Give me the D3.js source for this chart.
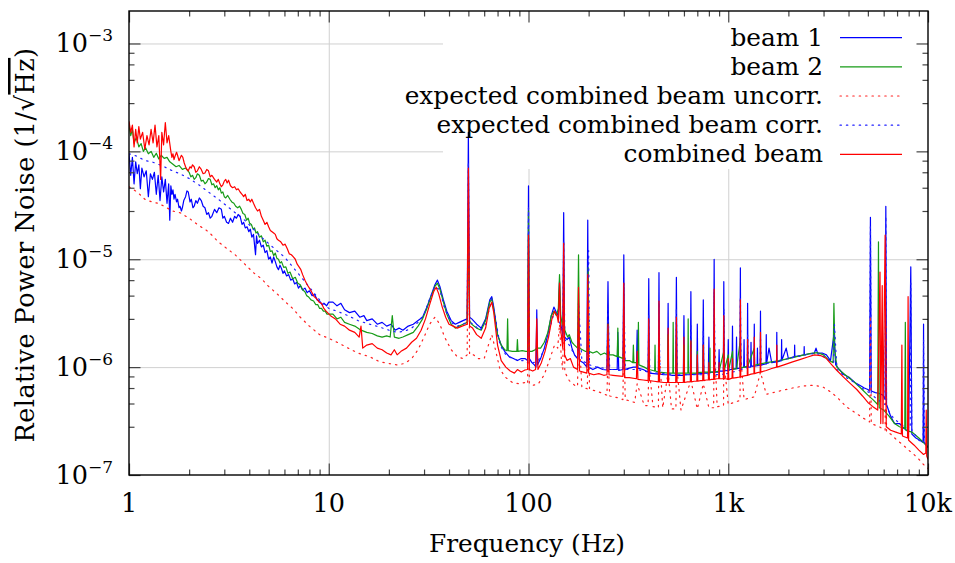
<!DOCTYPE html>
<html lang="en">
<head>
<meta charset="UTF-8">
<title>Relative Power Noise</title>
<script src="https://cdn.jsdelivr.net/npm/d3@7/dist/d3.min.js"></script>
<style>
    body { margin: 0; padding: 0; background: #fff; }
    svg { display: block; }
    text { font-family: "DejaVu Serif", serif; fill: #000; }
    .curve { fill: none; stroke-width: 1.2; stroke-linejoin: round; }
    .grid line { stroke: #d0d0d0; stroke-width: 1; }
    .grid path, .ticks path { display: none; }
    .ticks line { stroke: #444; stroke-width: 1.2; }
</style>
</head>
<body>
<svg width="955" height="563"></svg>
<script>
    // [frequency (Hz), noise (1/sqrt(Hz))]
    var beam1 = [
        [1.00,95e-6],[1.02,60e-6],[1.04,88e-6],[1.06,50e-6],[1.08,80e-6],[1.10,62e-6],[1.12,75e-6],[1.14,45e-6],
        [1.16,70e-6],[1.19,58e-6],[1.22,66e-6],[1.25,38e-6],[1.28,62e-6],[1.31,55e-6],[1.34,64e-6],[1.37,40e-6],
        [1.40,60e-6],[1.43,35e-6],[1.46,58e-6],[1.49,42e-6],[1.52,55e-6],[1.55,33e-6],[1.58,50e-6],[1.60,23e-6],
        [1.62,48e-6],[1.64,40e-6],[1.66,44e-6],[1.68,36e-6],[1.70,40e-6],[1.73,34e-6],[1.75,36e-6],[1.78,30e-6],
        [1.80,31e-6],[1.83,28e-6],[1.85,30e-6],[1.88,35e-6],[1.92,38e-6],[1.95,43e-6],[1.98,42e-6],[2.02,34e-6],
        [2.05,36e-6],[2.09,30e-6],[2.12,31e-6],[2.16,35e-6],[2.2,33e-6],[2.25,37e-6],[2.3,35e-6],[2.35,31e-6],
        [2.4,30e-6],[2.45,26e-6],[2.5,27e-6],[2.55,24e-6],[2.6,25e-6],[2.68,29e-6],[2.75,27e-6],[2.82,30e-6],
        [2.9,29e-6],[2.95,24e-6],[3.0,25e-6],[3.08,22e-6],[3.15,21.5e-6],[3.22,24e-6],[3.3,22e-6],[3.38,25e-6],
        [3.45,24e-6],[3.52,26e-6],[3.6,25e-6],[3.68,21e-6],[3.75,22e-6],[3.82,19.5e-6],[3.9,20e-6],[3.98,18e-6],
        [4.05,19e-6],[4.12,16e-6],[4.2,17e-6],[4.3,11e-6],[4.35,16.5e-6],[4.4,14e-6],[4.5,15e-6],[4.6,13e-6],
        [4.7,13.5e-6],[4.8,11.5e-6],[4.9,12e-6],[5.0,10e-6],[5.1,10.5e-6],[5.2,9.2e-6],[5.3,10.5e-6],[5.4,9.5e-6],
        [5.5,8.5e-6],[5.6,8e-6],[5.7,8.8e-6],[5.8,8.2e-6],[5.9,7.4e-6],[6.0,7.8e-6],[6.15,7e-6],[6.3,7.2e-6],
        [6.45,6.4e-6],[6.6,6.6e-6],[6.75,5.9e-6],[6.9,6.1e-6],[7.05,5.4e-6],[7.2,5.7e-6],[7.4,5.2e-6],[7.6,5.4e-6],
        [7.8,4.9e-6],[8.0,5.1e-6],[8.25,4.6e-6],[8.5,4.7e-6],[8.75,4.2e-6],[9.0,4.1e-6],[9.25,3.8e-6],[9.5,3.9e-6],
        [9.75,3.7e-6],[10,4e-6],
        [10.5,4.0e-6],[11,3.7e-6],[11.5,3.9e-6],[12,3.4e-6],[12.7,3.2e-6],[13.5,3.3e-6],[14.3,2.9e-6],[15,3.0e-6],
        [15.5,2.7e-6],[16.5,2.8e-6],[17.5,2.5e-6],[18.5,2.6e-6],[19.5,2.4e-6],[20.5,2.5e-6],[21.5,2.2e-6],[22.5,2.3e-6],
        [23.5,2.2e-6],[25,2.4e-6],[26.5,2.5e-6],[28,2.7e-6],[29.5,2.9e-6],[31,3.6e-6],[32.5,4.6e-6],[34,5.8e-6],
        [35,6.4e-6],[36,5.6e-6],[37.5,4.2e-6],[39,3.3e-6],[41,2.7e-6],[43,2.5e-6],[45,2.6e-6],[47,2.7e-6],
        [49.3,2.8e-6],[50,150e-6],[50.7,2.9e-6],[52,2.8e-6],[55,2.5e-6],[58,2.3e-6],[61,2.8e-6],[64,4.2e-6],
        [65.5,4.5e-6],[67,3.6e-6],[70,2.0e-6],[73,1.6e-6],[76,1.4e-6],[80,1.25e-6],[84,1.2e-6],[88,1.15e-6],
        [92,1.2e-6],[96,1.2e-6],[99,1.15e-6],[100,48e-6],[101,1.2e-6],
        [104,1.1e-6],[107,1.05e-6],[109,1.0e-6],[110,3.4e-6],[111,1.05e-6],[115,1.2e-6],[120,1.5e-6],[125,2.0e-6],
        [130,3.0e-6],[134,3.6e-6],[138,3.2e-6],[141,3.0e-6],[143,6.2e-6],[145,2.5e-6],[148.5,2.0e-6],[150,27e-6],
        [151.5,1.9e-6],[156,1.8e-6],[160,1.9e-6],[165,1.5e-6],[170,1.3e-6],[176,1.2e-6],[178,2.0e-6],[180,1.15e-6],
        [188,1.1e-6],[196,1.0e-6],[198,23e-6],[200,1.0e-6],[210,0.95e-6],[222,1.0e-6],[235,0.95e-6],[247,0.94e-6],
        [250,6.2e-6],[253,0.95e-6],[265,0.95e-6],[278,0.95e-6],[280,2.1e-6],[283,0.93e-6],[297,0.95e-6],[300,11e-6],
        [303,0.95e-6],[320,0.98e-6],[335,1.0e-6],[347,1.0e-6],[350,2.2e-6],[353,0.98e-6],[375,0.95e-6],[397,0.9e-6],
        [400,6.6e-6],[403,0.88e-6],[425,0.87e-6],[447,0.86e-6],[450,7.5e-6],[453,0.86e-6],[475,0.85e-6],[497,0.85e-6],
        [500,3.9e-6],[503,0.85e-6],[525,0.84e-6],[546,0.84e-6],[550,6.8e-6],[554,0.84e-6],[575,0.84e-6],[596,0.84e-6],
        [600,3.0e-6],[604,0.85e-6],[625,0.85e-6],[646,0.85e-6],[650,5.0e-6],[654,0.85e-6],[675,0.86e-6],[696,0.86e-6],
        [700,2.5e-6],[704,0.86e-6],[725,0.87e-6],[745,0.87e-6],[750,4.2e-6],[755,0.88e-6],[775,0.88e-6],[795,0.88e-6],
        [800,1.9e-6],[805,0.88e-6],[825,0.9e-6],[845,0.9e-6],[850,10e-6],[855,0.9e-6],[875,0.9e-6],[895,0.9e-6],
        [900,1.45e-6],[905,0.92e-6],[925,0.92e-6],[945,0.92e-6],[950,6.2e-6],[955,0.93e-6],[975,0.93e-6],[995,0.92e-6],
        [1000,1.8e-6],[1005,0.93e-6],
        [1025,0.95e-6],[1045,0.95e-6],[1050,2.4e-6],[1055,0.96e-6],[1095,0.97e-6],[1100,1.9e-6],[1105,0.97e-6],[1145,0.98e-6],
        [1150,8.3e-6],[1155,0.98e-6],[1195,1.0e-6],[1200,1.8e-6],[1205,1.0e-6],[1245,1.0e-6],[1250,3.9e-6],[1255,1.0e-6],
        [1295,1.0e-6],[1300,1.7e-6],[1305,1.02e-6],[1345,1.02e-6],[1350,2.5e-6],[1355,1.02e-6],[1395,1.03e-6],[1400,1.5e-6],
        [1405,1.03e-6],[1445,1.04e-6],[1450,3.3e-6],[1455,1.04e-6],[1500,1.06e-6],[1545,1.07e-6],[1550,2.0e-6],[1555,1.07e-6],
        [1600,1.5e-6],[1650,1.1e-6],[1745,1.12e-6],[1750,2.1e-6],[1755,1.12e-6],[1845,1.15e-6],[1850,1.8e-6],[1855,1.15e-6],
        [1950,1.5e-6],[2000,1.2e-6],[2145,1.25e-6],[2150,1.6e-6],[2155,1.25e-6],[2300,1.28e-6],[2395,1.3e-6],[2400,1.55e-6],
        [2405,1.3e-6],[2550,1.33e-6],[2700,1.35e-6],[2750,1.5e-6],[2800,1.35e-6],[2950,1.35e-6],[3100,1.3e-6],[3250,1.15e-6],
        [3380,2.0e-6],[3450,1.05e-6],[3600,0.95e-6],[3800,0.85e-6],[4050,0.8e-6],[4300,0.72e-6],[4550,0.68e-6],[4800,0.64e-6],
        [5000,0.62e-6],[5100,0.6e-6],[5150,24.5e-6],[5200,0.6e-6],[5450,0.58e-6],[5700,0.57e-6],[5950,0.55e-6],[6100,0.5e-6],
        [6150,31e-6],[6200,0.45e-6],[6500,0.35e-6],[6800,0.3e-6],[7200,0.3e-6],[7600,0.27e-6],[8000,0.25e-6],[8200,8.5e-6],
        [8300,0.24e-6],[8700,0.22e-6],[9100,0.21e-6],[9450,0.2e-6],[9500,2.5e-6],[9550,0.2e-6],[9800,0.19e-6],[10000,0.18e-6]
    ];
    var beam2 = [
        [1.00,175e-6],[1.02,140e-6],[1.04,160e-6],[1.06,120e-6],[1.09,135e-6],[1.12,110e-6],[1.15,118e-6],[1.18,100e-6],
        [1.21,108e-6],[1.25,95e-6],[1.29,100e-6],[1.33,88e-6],[1.37,96e-6],[1.41,85e-6],[1.45,92e-6],[1.5,86e-6],
        [1.55,88e-6],[1.6,80e-6],[1.66,76e-6],[1.72,72e-6],[1.78,74e-6],[1.85,68e-6],[1.92,70e-6],
        [2.0,64e-6],[2.04,58e-6],[2.08,60e-6],[2.12,55e-6],[2.16,57e-6],[2.2,62e-6],[2.25,60e-6],[2.3,53e-6],
        [2.35,54e-6],[2.4,50e-6],[2.45,52e-6],[2.5,56e-6],[2.55,55e-6],[2.6,49e-6],[2.65,50e-6],[2.7,46e-6],
        [2.75,48e-6],[2.8,44e-6],[2.85,46e-6],[2.9,41e-6],[2.95,42e-6],[3.0,38e-6],[3.05,37e-6],[3.12,39e-6],
        [3.2,36e-6],[3.27,34e-6],[3.35,33e-6],[3.42,31e-6],[3.5,30e-6],[3.58,31e-6],[3.65,29e-6],[3.72,26.5e-6],
        [3.8,26e-6],[3.88,23e-6],[3.95,24e-6],[4.02,21.5e-6],[4.1,21e-6],[4.18,19e-6],[4.25,19.5e-6],[4.32,17.5e-6],
        [4.4,18e-6],[4.5,16e-6],[4.6,16.5e-6],[4.7,14.5e-6],[4.8,15e-6],[4.9,13.2e-6],[5.0,13.5e-6],[5.1,11.8e-6],
        [5.2,12e-6],[5.3,10.8e-6],[5.4,11.4e-6],[5.5,10.2e-6],[5.6,10e-6],[5.7,9.2e-6],[5.8,9.5e-6],[5.95,8.4e-6],
        [6.1,8.5e-6],[6.25,7.4e-6],[6.4,7.6e-6],[6.6,6.6e-6],[6.8,6.8e-6],[7.0,6.0e-6],[7.2,5.8e-6],[7.4,5.2e-6],
        [7.6,5.0e-6],[7.75,4.6e-6],[7.9,4.5e-6],[8.15,4.2e-6],[8.4,4.1e-6],[8.6,3.8e-6],[8.8,3.8e-6],[9.0,3.5e-6],
        [9.2,3.5e-6],[9.4,3.3e-6],[9.6,3.3e-6],[9.8,3.1e-6],[10,3.1e-6],
        [10.5,3.1e-6],[11,2.8e-6],[11.5,2.9e-6],[12,2.6e-6],[12.7,2.5e-6],[13.5,2.4e-6],[14.5,2.2e-6],[15.5,2.1e-6],
        [16.5,2.05e-6],[17.5,1.95e-6],[18.5,1.9e-6],[19.5,1.95e-6],[20.3,1.9e-6],[20.8,3.0e-6],[21.3,1.9e-6],[22.5,1.85e-6],
        [23.5,1.9e-6],[25,2.0e-6],[26.5,2.1e-6],[28,2.4e-6],[29.5,2.8e-6],[31,3.5e-6],[32.5,4.5e-6],[34,5.6e-6],
        [35,6.0e-6],[36,5.3e-6],[37.5,4.0e-6],[39,3.1e-6],[41,2.5e-6],[43,2.3e-6],[45,2.4e-6],[47,2.5e-6],
        [49.3,2.6e-6],[50,18e-6],[50.7,2.7e-6],[52,2.5e-6],[55,2.3e-6],[58,2.2e-6],[61,2.7e-6],[64,4.0e-6],
        [65.5,4.3e-6],[67,3.4e-6],[70,2.0e-6],[73,1.6e-6],[76,1.45e-6],[78,1.42e-6],[78.6,2.8e-6],[79.2,1.42e-6],
        [83,1.4e-6],[87.4,1.4e-6],[88,1.8e-6],[88.6,1.4e-6],[93,1.42e-6],[97,1.4e-6],[99,1.4e-6],[100,28e-6],[101,1.4e-6],
        [104,1.4e-6],[108,1.45e-6],[110,1.5e-6],[115,1.5e-6],[120,1.7e-6],[125,2.1e-6],[130,3.0e-6],[134,3.3e-6],
        [138,3.0e-6],[141,3.5e-6],[143,7.2e-6],[145,3.0e-6],[148,2.4e-6],[150,3.0e-6],[152,2.2e-6],[157,1.9e-6],
        [160,2.0e-6],[165,1.7e-6],[170,1.6e-6],[176,1.5e-6],[178,11e-6],[180,1.5e-6],[186,1.45e-6],[192,1.4e-6],
        [197,1.4e-6],[199,8.3e-6],[201,1.4e-6],[210,1.35e-6],[220,1.4e-6],[230,1.3e-6],[240,1.35e-6],[248,1.3e-6],
        [250,2.5e-6],[252,1.3e-6],[265,1.3e-6],[278,1.25e-6],[280,2.3e-6],[282,1.25e-6],[298,1.2e-6],[300,2.2e-6],
        [302,1.15e-6],[320,1.15e-6],[333,1.1e-6],[335,1.6e-6],[337,1.1e-6],[353,1.1e-6],[355,2.6e-6],[357,1.05e-6],
        [380,1.0e-6],[398,0.95e-6],[400,1.5e-6],[402,0.95e-6],[428,0.92e-6],[430,1.6e-6],[432,0.92e-6],[448,0.9e-6],
        [450,1.5e-6],[452,0.9e-6],[498,0.88e-6],[500,2.0e-6],[502,0.88e-6],[528,0.88e-6],[530,2.6e-6],[532,0.88e-6],
        [548,0.88e-6],[550,1.8e-6],[552,0.88e-6],[598,0.88e-6],[600,1.6e-6],[602,0.88e-6],[628,0.88e-6],[630,2.8e-6],
        [632,0.88e-6],[648,0.88e-6],[650,1.8e-6],[652,0.88e-6],[698,0.88e-6],[700,1.4e-6],[702,0.89e-6],[748,0.9e-6],
        [750,1.6e-6],[752,0.9e-6],[808,0.9e-6],[810,1.5e-6],[812,0.9e-6],[848,0.9e-6],[850,2.0e-6],[852,0.9e-6],
        [900,0.92e-6],[950,1.4e-6],[955,0.93e-6],[1000,1.3e-6],[1005,0.94e-6],
        [1050,1.4e-6],[1055,0.95e-6],[1100,0.97e-6],[1150,1.8e-6],[1155,0.98e-6],[1250,1.02e-6],[1350,1.5e-6],[1355,1.04e-6],
        [1450,1.07e-6],[1550,1.1e-6],[1650,1.12e-6],[1800,1.15e-6],[2000,1.2e-6],[2200,1.25e-6],[2400,1.3e-6],[2600,1.34e-6],
        [2800,1.36e-6],[3000,1.3e-6],[3200,1.15e-6],[3350,1.1e-6],[3380,3.9e-6],[3420,1.4e-6],[3500,1.0e-6],[3700,0.9e-6],
        [4000,0.8e-6],[4300,0.72e-6],[4600,0.64e-6],[5000,0.55e-6],[5300,0.5e-6],[5600,0.45e-6],[5650,14.5e-6],[5700,0.42e-6],
        [6000,0.4e-6],[6400,0.35e-6],[6800,0.3e-6],[7200,0.28e-6],[7650,0.27e-6],[7700,2.6e-6],[7750,0.26e-6],[8300,0.25e-6],
        [9000,0.22e-6],[9500,0.2e-6],[10000,0.18e-6]
    ];
    var uncorr = [
        [1.0,47e-6],[1.1,42e-6],[1.2,36e-6],[1.3,34e-6],[1.4,33e-6],[1.5,31e-6],[1.65,28e-6],[1.8,27e-6],
        [2.0,24e-6],[2.2,21e-6],[2.5,18e-6],[2.8,14.5e-6],[3.1,12.5e-6],[3.4,11e-6],[3.8,9e-6],[4.2,7.5e-6],
        [4.6,6.6e-6],[5.0,5.6e-6],[5.5,4.8e-6],[6.0,4.1e-6],[6.6,3.5e-6],[7.2,2.9e-6],[8.0,2.4e-6],[9.0,2.0e-6],[10,1.85e-6],
        [11,1.7e-6],[12.5,1.5e-6],[14,1.35e-6],[16,1.25e-6],[18,1.12e-6],[20,1.08e-6],[22,1.05e-6],[24,1.08e-6],
        [26,1.2e-6],[28,1.45e-6],[30,1.9e-6],[32,2.5e-6],[34,2.9e-6],[36,2.5e-6],[38,1.9e-6],[41,1.45e-6],
        [44,1.25e-6],[47,1.2e-6],[49.3,1.3e-6],[50,35e-6],[50.7,1.3e-6],[53,1.3e-6],[56,1.2e-6],[60,1.2e-6],
        [63,1.6e-6],[65.5,2.0e-6],[68,1.5e-6],[72,0.95e-6],[77,0.8e-6],[83,0.72e-6],[90,0.7e-6],[96,0.72e-6],
        [99,0.7e-6],[100,12e-6],[101,0.7e-6],
        [106,0.68e-6],[112,0.7e-6],[120,0.85e-6],[128,1.2e-6],[135,1.6e-6],[140,1.5e-6],[143,2.5e-6],[146,1.2e-6],
        [148.5,0.95e-6],[150,7e-6],[152,0.9e-6],[160,0.75e-6],[170,0.68e-6],[176,0.66e-6],[178,2.5e-6],[185,0.65e-6],
        [197,0.63e-6],[200,4e-6],[202,0.62e-6],[220,0.6e-6],[240,0.56e-6],[247,0.55e-6],[250,1.3e-6],[255,0.54e-6],
        [280,0.52e-6],[297,0.5e-6],[300,2.5e-6],[305,0.5e-6],[340,0.47e-6],[350,0.7e-6],[380,0.44e-6],[397,0.44e-6],
        [400,1.1e-6],[420,0.43e-6],[447,0.42e-6],[450,1.6e-6],[470,0.42e-6],[500,0.9e-6],[520,0.41e-6],[547,0.41e-6],
        [550,1.1e-6],[580,0.4e-6],[650,0.75e-6],[700,0.41e-6],[750,0.7e-6],[800,0.42e-6],[845,0.42e-6],[850,2e-6],
        [880,0.43e-6],[947,0.44e-6],[950,1.2e-6],[1000,0.45e-6],
        [1100,0.48e-6],[1145,0.49e-6],[1150,1.4e-6],[1200,0.5e-6],[1350,0.53e-6],[1450,0.9e-6],[1550,0.56e-6],[1800,0.6e-6],
        [2100,0.64e-6],[2400,0.67e-6],[2700,0.68e-6],[3000,0.65e-6],[3300,0.58e-6],[3600,0.5e-6],[3900,0.43e-6],[4300,0.38e-6],
        [4700,0.34e-6],[5100,0.31e-6],[5150,3e-6],[5200,0.3e-6],[5700,0.28e-6],[6100,0.26e-6],[6150,2.5e-6],[6200,0.25e-6],
        [6500,0.24e-6],[7000,0.21e-6],[7500,0.19e-6],[8000,0.17e-6],[8500,0.155e-6],[9000,0.14e-6],[9500,0.125e-6],[10000,0.115e-6]
    ];
    var corr = [
        [1.0,95e-6],[1.1,90e-6],[1.2,82e-6],[1.3,80e-6],[1.4,76e-6],[1.5,72e-6],[1.65,66e-6],[1.8,62e-6],
        [2.0,56e-6],[2.2,50e-6],[2.5,42e-6],[2.8,36e-6],[3.1,31e-6],[3.4,27e-6],[3.8,23e-6],[4.2,19e-6],
        [4.6,16e-6],[5.0,14e-6],[5.5,12e-6],[6.0,10.5e-6],[6.6,8.5e-6],[7.2,7e-6],[8.0,5.5e-6],[9.0,4.2e-6],[10,3.5e-6],
        [11,3.3e-6],[12.5,3.0e-6],[14,2.7e-6],[16,2.5e-6],[18,2.35e-6],[20,2.2e-6],[22,2.1e-6],[24,2.15e-6],
        [26,2.3e-6],[28,2.6e-6],[30,3.1e-6],[32,4.3e-6],[34,5.6e-6],[36,5.2e-6],[38,3.5e-6],[41,2.6e-6],
        [44,2.4e-6],[47,2.5e-6],[49.3,2.6e-6],[50,80e-6],[50.7,2.6e-6],[53,2.5e-6],[57,2.2e-6],[61,2.5e-6],
        [65.5,4.3e-6],[68,3.0e-6],[72,1.6e-6],[77,1.3e-6],[83,1.2e-6],[90,1.15e-6],[96,1.15e-6],[99,1.1e-6],
        [100,30e-6],[101,1.1e-6],
        [106,1.1e-6],[112,1.15e-6],[120,1.45e-6],[128,2.3e-6],[135,3.3e-6],[140,3.0e-6],[146,2.3e-6],[148.5,1.9e-6],
        [150,15e-6],[152,1.8e-6],[160,1.6e-6],[170,1.3e-6],[176,1.2e-6],[178,4e-6],[185,1.15e-6],[197,1.08e-6],
        [200,12e-6],[202,1.05e-6],[220,1.0e-6],[247,0.97e-6],[250,3.5e-6],[255,0.95e-6],[280,0.95e-6],[297,0.95e-6],
        [300,6e-6],[305,0.95e-6],[350,0.95e-6],[397,0.9e-6],[400,3e-6],[405,0.9e-6],[447,0.88e-6],[450,4e-6],
        [455,0.88e-6],[547,0.85e-6],[550,3.5e-6],[555,0.85e-6],[647,0.85e-6],[650,2.5e-6],[655,0.85e-6],[747,0.85e-6],
        [750,2.2e-6],[755,0.85e-6],[845,0.85e-6],[850,5e-6],[860,0.85e-6],[945,0.86e-6],[950,3.5e-6],[960,0.86e-6],
        [1050,0.9e-6],[1145,0.93e-6],[1150,4.5e-6],[1160,0.95e-6],[1245,0.98e-6],[1250,2e-6],[1260,1.0e-6],[1445,1.04e-6],
        [1450,1.9e-6],[1460,1.05e-6],[1800,1.15e-6],[2200,1.25e-6],[2600,1.33e-6],[2900,1.32e-6],[3200,1.15e-6],[3370,1.1e-6],
        [3400,2.5e-6],[3500,0.95e-6],[3900,0.8e-6],[4400,0.7e-6],[4900,0.6e-6],[5100,0.58e-6],[5150,20e-6],[5200,0.56e-6],
        [5600,0.5e-6],[6100,0.45e-6],[6150,25e-6],[6200,0.42e-6],[6600,0.35e-6],[7200,0.3e-6],[7700,0.28e-6],[8150,0.27e-6],
        [8200,6e-6],[8300,0.26e-6],[9000,0.21e-6],[9450,0.2e-6],[9500,1.8e-6],[9600,0.2e-6],[10000,0.18e-6]
    ];
    var combined = [
        [1.00,190e-6],[1.02,150e-6],[1.04,175e-6],[1.06,110e-6],[1.08,160e-6],[1.10,120e-6],[1.12,170e-6],[1.14,130e-6],
        [1.17,150e-6],[1.20,105e-6],[1.23,140e-6],[1.26,115e-6],[1.29,160e-6],[1.32,120e-6],[1.35,175e-6],[1.38,110e-6],
        [1.41,140e-6],[1.44,55e-6],[1.46,150e-6],[1.49,115e-6],[1.52,185e-6],[1.55,120e-6],[1.58,140e-6],
        [1.62,100e-6],[1.64,88e-6],[1.66,95e-6],[1.68,84e-6],[1.70,90e-6],[1.73,98e-6],[1.75,92e-6],[1.78,82e-6],
        [1.80,86e-6],[1.83,92e-6],[1.86,88e-6],[1.89,78e-6],[1.92,72e-6],[1.95,68e-6],[1.98,66e-6],[2.02,72e-6],
        [2.05,70e-6],[2.08,75e-6],[2.12,72e-6],[2.16,64e-6],[2.2,66e-6],[2.25,72e-6],[2.3,68e-6],[2.35,62e-6],
        [2.4,63e-6],[2.45,68e-6],[2.5,66e-6],[2.55,58e-6],[2.6,60e-6],[2.68,55e-6],[2.75,52e-6],[2.8,55e-6],
        [2.85,50e-6],[2.9,47e-6],[2.95,49e-6],[3.0,53e-6],[3.05,55e-6],[3.1,51e-6],[3.15,54e-6],[3.22,48e-6],
        [3.3,46e-6],[3.38,47e-6],[3.45,44e-6],[3.52,45e-6],[3.6,42e-6],[3.68,40e-6],[3.75,38e-6],[3.82,40e-6],
        [3.9,35e-6],[3.98,36e-6],[4.05,34e-6],[4.12,36e-6],[4.2,33e-6],[4.3,30e-6],[4.4,28e-6],[4.5,29e-6],
        [4.6,25e-6],[4.7,23e-6],[4.8,21e-6],[4.9,22e-6],[5.0,20e-6],[5.1,18.5e-6],[5.2,18e-6],[5.3,17.5e-6],
        [5.4,17e-6],[5.5,15.5e-6],[5.6,15e-6],[5.75,14.5e-6],[5.9,13.5e-6],[6.05,13.8e-6],[6.2,12.5e-6],[6.35,11.2e-6],
        [6.5,11e-6],[6.65,10.5e-6],[6.8,10e-6],[6.95,9e-6],[7.1,8.5e-6],[7.25,8e-6],[7.4,7.2e-6],[7.6,6.4e-6],
        [7.8,5.8e-6],[8.0,5.4e-6],[8.2,5e-6],[8.45,4.5e-6],[8.7,4.3e-6],[8.95,4.0e-6],[9.2,3.9e-6],[9.45,3.5e-6],
        [9.7,3.3e-6],[10.2,3.0e-6],
        [10.8,2.8e-6],[11.4,2.5e-6],[12,2.4e-6],[12.7,2.2e-6],[13.5,2.1e-6],[14.2,1.9e-6],[14.5,2.4e-6],[14.8,1.5e-6],
        [15.5,1.6e-6],[16.5,1.65e-6],[17.5,1.5e-6],[18.5,1.45e-6],[19.5,1.35e-6],[20.5,1.3e-6],[21.3,1.45e-6],[22,1.3e-6],
        [23,1.4e-6],[24.5,1.5e-6],[26,1.7e-6],[27.5,1.85e-6],[29,2.2e-6],[30.5,2.8e-6],[32,3.8e-6],[33.5,5.0e-6],
        [34.5,5.5e-6],[35.5,4.8e-6],[37,3.6e-6],[38.5,2.9e-6],[40,2.5e-6],[42,2.4e-6],[44,2.3e-6],[46.5,2.4e-6],
        [49.3,2.5e-6],[50,70e-6],[50.7,2.4e-6],[52.5,2.3e-6],[55,2.0e-6],[58,1.85e-6],[61,2.3e-6],[63.5,3.5e-6],
        [65.5,4.0e-6],[67,3.2e-6],[70,1.6e-6],[73,1.15e-6],[77,1.0e-6],[81,0.92e-6],[85,0.88e-6],[88,0.95e-6],
        [92,0.9e-6],[96,0.94e-6],[99,0.95e-6],[100,16.7e-6],[101,0.95e-6],
        [105,0.92e-6],[108.5,0.95e-6],[110,2.8e-6],[111.5,0.95e-6],[116,1.1e-6],[121,1.4e-6],[126,1.9e-6],[131,2.8e-6],
        [135,3.3e-6],[139,3.0e-6],[141,2.6e-6],[143,6.0e-6],[145,2.2e-6],[148.5,1.5e-6],[150,14e-6],[151.5,1.3e-6],
        [156,1.15e-6],[162,1.2e-6],[168,1.0e-6],[176,0.95e-6],[178,5.5e-6],[180,0.92e-6],[188,0.9e-6],[196,0.88e-6],
        [198,7.2e-6],[200,0.88e-6],[212,0.85e-6],[225,0.87e-6],[238,0.84e-6],[247,0.85e-6],[250,2.5e-6],[253,0.85e-6],
        [265,0.84e-6],[280,0.83e-6],[297,0.82e-6],[300,6e-6],[303,0.8e-6],[320,0.8e-6],[347,0.78e-6],[350,1.4e-6],
        [353,0.77e-6],[375,0.76e-6],[397,0.75e-6],[400,2.8e-6],[403,0.75e-6],[425,0.74e-6],[447,0.73e-6],[450,4.1e-6],
        [453,0.73e-6],[475,0.72e-6],[497,0.72e-6],[500,2.3e-6],[503,0.72e-6],[525,0.72e-6],[546,0.72e-6],[550,2.9e-6],
        [554,0.72e-6],[575,0.72e-6],[596,0.72e-6],[600,1.9e-6],[604,0.72e-6],[625,0.73e-6],[646,0.73e-6],[650,1.75e-6],
        [654,0.73e-6],[675,0.74e-6],[696,0.74e-6],[700,1.3e-6],[704,0.74e-6],[725,0.75e-6],[745,0.75e-6],[750,1.6e-6],
        [755,0.75e-6],[775,0.76e-6],[795,0.76e-6],[800,1.1e-6],[805,0.76e-6],[825,0.77e-6],[845,0.77e-6],[850,5.3e-6],
        [855,0.77e-6],[875,0.78e-6],[895,0.78e-6],[900,1.1e-6],[905,0.78e-6],[925,0.78e-6],[945,0.78e-6],[950,3.0e-6],
        [955,0.78e-6],[975,0.78e-6],[995,0.77e-6],[1000,1.2e-6],[1005,0.77e-6],
        [1045,0.79e-6],[1050,1.2e-6],[1055,0.79e-6],[1100,0.8e-6],[1145,0.81e-6],[1150,4.2e-6],[1155,0.81e-6],[1200,0.83e-6],
        [1245,0.84e-6],[1250,1.8e-6],[1255,0.84e-6],[1300,0.86e-6],[1345,0.87e-6],[1350,1.9e-6],[1355,0.87e-6],[1400,0.89e-6],
        [1445,0.9e-6],[1450,2.1e-6],[1455,0.9e-6],[1550,0.93e-6],[1650,0.97e-6],[1745,1.0e-6],[1750,1.6e-6],[1755,1.0e-6],
        [1900,1.05e-6],[2100,1.12e-6],[2300,1.18e-6],[2500,1.24e-6],[2700,1.3e-6],[2900,1.28e-6],[3100,1.2e-6],[3300,1.05e-6],
        [3500,0.93e-6],[3800,0.8e-6],[4100,0.7e-6],[4400,0.62e-6],[4700,0.54e-6],[5000,0.47e-6],[5300,0.43e-6],[5600,0.4e-6],
        [5750,7.6e-6],[5800,0.3e-6],[5900,5.7e-6],[5950,0.3e-6],[6100,16.7e-6],[6180,0.28e-6],[6500,0.26e-6],[6900,0.25e-6],
        [7350,0.24e-6],[7400,1.6e-6],[7450,0.23e-6],[7900,0.22e-6],[7950,4.5e-6],[8000,0.21e-6],[8500,0.19e-6],[9000,0.17e-6],
        [9500,0.155e-6],[9750,0.16e-6],[9800,0.4e-6],[9850,0.15e-6],[10000,0.14e-6]
    ];

    var xTicks = [1, 10, 100, 1000, 10000];
    var xTickLabels = ['1', '10', '100', '1k', '10k'];
    var yTicks = [1e-3, 1e-4, 1e-5, 1e-6, 1e-7];
    var yTickExponents = ['\u22123', '\u22124', '\u22125', '\u22126', '\u22127'];
    var xMinorSteps = [2, 3, 4, 5, 6, 7, 8, 9];
    var yMinorSteps = [2.8, 4.6, 6.4, 8.2];

    var series = [
        {label: 'beam 1', data: beam1, color: '#0000ff', dash: null},
        {label: 'beam 2', data: beam2, color: '#169b16', dash: null},
        {label: 'expected combined beam uncorr.', data: uncorr, color: '#ff2020', dash: '1.4 5'},
        {label: 'expected combined beam corr.', data: corr, color: '#2020ff', dash: '1.4 5'},
        {label: 'combined beam', data: combined, color: '#ff0000', dash: null}
    ];

    // plot box (note: "top" is taken by window.top, so use other names)
    var plotLeft = 129, plotRight = 928, plotTop = 11, plotBottom = 475;
    var svg = d3.select('svg');

    var x = d3.scaleLog().domain([1, 1e4]).range([plotLeft, plotRight]);
    var y = d3.scaleLog().domain([1e-7, 2e-3]).range([plotBottom, plotTop]);

    var xMinor = [], yMinor = [];
    [1, 10, 100, 1000].forEach(function(d) {
        xMinorSteps.forEach(function(m) { xMinor.push(d * m); });
    });
    [1e-7, 1e-6, 1e-5, 1e-4, 1e-3].forEach(function(d) {
        yMinorSteps.forEach(function(m) { if (d * m < 2e-3) yMinor.push(d * m); });
    });

    // grid
    svg.append('g').attr('class', 'grid')
        .attr('transform', 'translate(0,' + plotBottom + ')')
        .call(d3.axisBottom(x).tickValues([10, 100, 1000]).tickSize(-(plotBottom - plotTop)).tickFormat(''));
    svg.append('g').attr('class', 'grid')
        .attr('transform', 'translate(' + plotLeft + ',0)')
        .call(d3.axisLeft(y).tickValues([1e-3, 1e-4, 1e-5, 1e-6]).tickSize(-(plotRight - plotLeft)).tickFormat(''));

    // legend background hides the grid behind it
    svg.append('rect')
        .attr('x', 443).attr('y', plotTop)
        .attr('width', plotRight - 443).attr('height', 169 - plotTop)
        .attr('fill', '#fff');

    svg.append('clipPath').attr('id', 'plotClip')
        .append('rect')
        .attr('x', plotLeft).attr('y', plotTop)
        .attr('width', plotRight - plotLeft).attr('height', plotBottom - plotTop);

    var line = d3.line()
        .x(function(d) { return x(d[0]); })
        .y(function(d) { return y(d[1]); });

    svg.append('g').attr('clip-path', 'url(#plotClip)')
        .selectAll('path')
        .data(series)
        .enter().append('path')
        .attr('class', 'curve')
        .attr('d', function(d) { return line(d.data); })
        .attr('stroke', function(d) { return d.color; })
        .attr('stroke-dasharray', function(d) { return d.dash; })
        .attr('stroke-linecap', function(d) { return d.dash ? 'round' : 'butt'; });

    // legend
    var legend = svg.append('g').selectAll('g')
        .data(series)
        .enter().append('g')
        .attr('transform', function(d, i) { return 'translate(0,' + (37.7 + i * 29.15) + ')'; });
    legend.append('text')
        .attr('x', 823).attr('y', 8)
        .attr('text-anchor', 'end')
        .style('font-size', '24.8px')
        .text(function(d) { return d.label; });
    legend.append('line')
        .attr('x1', 840).attr('x2', 902)
        .attr('stroke', function(d) { return d.color; })
        .attr('stroke-width', 1.2)
        .attr('stroke-dasharray', function(d) { return d.dash; })
        .attr('stroke-linecap', function(d) { return d.dash ? 'round' : 'butt'; });

    // ticks on all four sides, pointing inwards
    function ticks(axis, values, size, tx, ty) {
        svg.append('g').attr('class', 'ticks')
            .attr('transform', 'translate(' + tx + ',' + ty + ')')
            .call(axis.tickValues(values).tickSize(size).tickFormat(''));
    }
    ticks(d3.axisBottom(x), xTicks, -11.5, 0, plotBottom);
    ticks(d3.axisBottom(x), xMinor, -5.5, 0, plotBottom);
    ticks(d3.axisTop(x), xTicks, -11.5, 0, plotTop);
    ticks(d3.axisTop(x), xMinor, -5.5, 0, plotTop);
    ticks(d3.axisLeft(y), yTicks, -11.5, plotLeft, 0);
    ticks(d3.axisLeft(y), yMinor, -5.5, plotLeft, 0);
    ticks(d3.axisRight(y), yTicks, -11.5, plotRight, 0);
    ticks(d3.axisRight(y), yMinor, -5.5, plotRight, 0);

    svg.append('rect')
        .attr('x', plotLeft).attr('y', plotTop)
        .attr('width', plotRight - plotLeft).attr('height', plotBottom - plotTop)
        .attr('fill', 'none').attr('stroke', '#000').attr('stroke-width', 1.4);

    // tick labels
    svg.append('g').selectAll('text')
        .data(xTicks)
        .enter().append('text')
        .attr('x', function(d) { return x(d); })
        .attr('y', 512)
        .attr('text-anchor', 'middle')
        .style('font-size', '25.5px')
        .text(function(d, i) { return xTickLabels[i]; });

    var yLab = svg.append('g').selectAll('text')
        .data(yTicks)
        .enter().append('text')
        .attr('x', 113)
        .attr('y', function(d) { return y(d) + 8.5; })
        .attr('text-anchor', 'end')
        .style('font-size', '25.5px');
    yLab.append('tspan').text('10');
    yLab.append('tspan')
        .attr('dy', -10.5)
        .style('font-size', '17px')
        .text(function(d, i) { return yTickExponents[i]; });

    // axis titles
    svg.append('text')
        .attr('x', 527).attr('y', 552)
        .attr('text-anchor', 'middle')
        .style('font-size', '24.8px')
        .text('Frequency (Hz)');

    var yTitle = svg.append('text')
        .attr('transform', 'translate(34,245) rotate(-90)')
        .attr('text-anchor', 'middle')
        .style('font-size', '25.5px')
        .style('letter-spacing', '0.5px');
    yTitle.append('tspan').text('Relative Power Noise (1/\u221A');
    yTitle.append('tspan').style('text-decoration', 'overline').text('Hz');
    yTitle.append('tspan').text(')');
</script>
</body>
</html>
